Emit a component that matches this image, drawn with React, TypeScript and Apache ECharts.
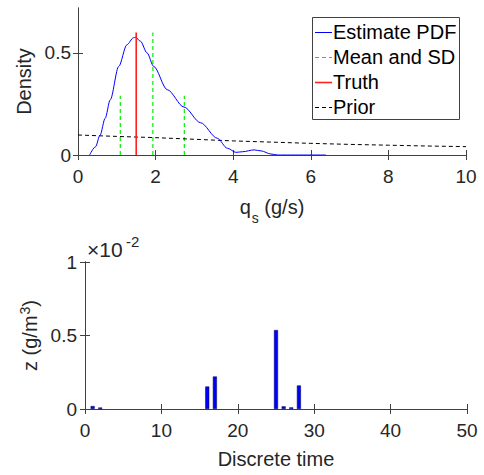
import React, { useEffect, useRef } from "react";
import * as echarts from "echarts";

// Top panel: estimated PDF of q_s
const pdfX = [0.3, 0.45, 0.57, 0.7, 0.83, 1.05, 1.26, 1.43, 1.48, 1.61, 1.78, 1.95, 2.3, 2.73, 3.16, 3.59, 3.85, 4.07, 4.24, 4.54, 4.72, 4.97, 5.15, 6.39];
const pdfY = [0, 0.04, 0.098, 0.18, 0.27, 0.434, 0.54, 0.574, 0.577, 0.557, 0.5, 0.434, 0.32, 0.235, 0.158, 0.082, 0.033, 0.013, 0.016, 0.025, 0.02, 0.005, 0, 0];
const priorX = [0, 1, 2, 3, 4, 5, 6, 7, 8, 9, 10];
const priorY = [0.098, 0.091, 0.085, 0.077, 0.069, 0.063, 0.057, 0.052, 0.048, 0.044, 0.041];
const meanSdX = [1.09, 1.93, 2.74];
const meanSdTop = [0.29, 0.6, 0.29];
const truthX = 1.5;
const truthTop = 0.6;
const topXTicks = [0, 2, 4, 6, 8, 10];
const topYTicks = [0, 0.5];
const legendNames = ["Estimate PDF", "Mean and SD", "Truth", "Prior"];

// Bottom panel: z (in units of 1e-2 g/m^3)
const times = [1, 2, 16, 17, 25, 26, 27, 28];
const zVals = [0.02, 0.01, 0.153, 0.221, 0.537, 0.018, 0.011, 0.16];
const botXTicks = [0, 10, 20, 30, 40, 50];
const botYTicks = [0, 0.5, 1];

const FONT = "Liberation Sans";
const TXT = "#262626";
const AX = "#404040";
const BLUE = "#0000ff";
const GREEN = "#00ee00";
const RED = "#ff2020";
const BLACK = "#000000";

function mainAxisCommon(ticks: number[], min: number, max: number, margin: number) {
  return {
    type: "value",
    min,
    max,
    axisLine: { show: true, lineStyle: { color: AX, width: 1 } },
    axisTick: { show: true, inside: true, length: 5, lineStyle: { color: AX }, customValues: ticks },
    axisLabel: {
      show: true,
      color: TXT,
      fontFamily: FONT,
      fontSize: 19,
      margin,
      customValues: ticks,
      formatter: (v: number) => String(v),
    },
    splitLine: { show: false },
  };
}

function boxAxis(ticks: number[], min: number, max: number, gridIndex: number, position: string) {
  return {
    type: "value",
    gridIndex,
    position,
    min,
    max,
    axisLine: { show: true, lineStyle: { color: AX, width: 1 } },
    axisTick: { show: true, inside: true, length: 5, lineStyle: { color: AX }, customValues: ticks },
    axisLabel: { show: false },
    splitLine: { show: false },
  };
}

export default function App() {
  const ref = useRef<HTMLDivElement>(null);
  useEffect(() => {
    if (!ref.current) return;
    const chart = echarts.init(ref.current, null, { renderer: "svg" });

    const meanSdData: any[] = [];
    meanSdX.forEach((x, i) => {
      meanSdData.push([x, 0], [x, meanSdTop[i]]);
      if (i < meanSdX.length - 1) meanSdData.push(["-", "-"]);
    });

    // legend drawn manually so that line samples look like MATLAB's
    const lgLeft = 312, lgTop = 17, lgW = 147, lgH = 102, rowH = 25, row0 = 32;
    const lgStyles = [
      { stroke: BLUE, lineDash: null, lineWidth: 1 },
      { stroke: GREEN, lineDash: [4, 3], lineWidth: 1.2 },
      { stroke: RED, lineDash: null, lineWidth: 1.6 },
      { stroke: BLACK, lineDash: [4, 3], lineWidth: 1 },
    ];
    const legendGraphic: any[] = [
      {
        type: "rect",
        shape: { x: lgLeft + 0.5, y: lgTop + 0.5, width: lgW, height: lgH },
        style: { fill: "#ffffff", stroke: AX, lineWidth: 1 },
        z: 100,
      },
    ];
    legendNames.forEach((name, i) => {
      const cy = row0 + i * rowH;
      const st: any = { stroke: lgStyles[i].stroke, lineWidth: lgStyles[i].lineWidth };
      if (lgStyles[i].lineDash) st.lineDash = lgStyles[i].lineDash;
      legendGraphic.push({
        type: "line",
        shape: { x1: lgLeft + 3, y1: cy + 0.5, x2: lgLeft + 20, y2: cy + 0.5 },
        style: st,
        z: 101,
      });
      legendGraphic.push({
        type: "text",
        x: lgLeft + 21,
        y: cy,
        style: { text: name, fontSize: 20, fontFamily: FONT, fill: BLACK, verticalAlign: "middle", align: "left" },
        z: 101,
      });
    });

    const option: any = {
      animation: false,
      backgroundColor: "#ffffff",
      textStyle: { fontFamily: FONT },
      grid: [
        { left: 78, right: 18, top: 8, height: 147, containLabel: false },
        { left: 85, right: 17, top: 262, height: 147, containLabel: false },
      ],
      xAxis: [
        {
          ...mainAxisCommon(topXTicks, 0, 10, 12),
          gridIndex: 0,
          position: "bottom",
          name: "{a|q}{sub|s}{a| (g/s)}",
          nameLocation: "middle",
          nameGap: 40,
          nameTextStyle: {
            rich: {
              a: { fontSize: 20, color: TXT, fontFamily: FONT, lineHeight: 24 },
              sub: { fontSize: 14, color: TXT, fontFamily: FONT, verticalAlign: "bottom", lineHeight: 16, padding: [0, 0, -6, 1] },
            },
          },
        },
        boxAxis(topXTicks, 0, 10, 0, "top"),
        {
          ...mainAxisCommon(botXTicks, 0, 50, 12),
          gridIndex: 1,
          position: "bottom",
          name: "Discrete time",
          nameLocation: "middle",
          nameGap: 40,
          nameTextStyle: { fontSize: 20, color: TXT, fontFamily: FONT },
        },
        boxAxis(botXTicks, 0, 50, 1, "top"),
      ],
      yAxis: [
        {
          ...mainAxisCommon(topYTicks, 0, 0.72, 7),
          gridIndex: 0,
          position: "left",
          name: "Density",
          nameLocation: "middle",
          nameGap: 44,
          nameTextStyle: { fontSize: 20, color: TXT, fontFamily: FONT },
        },
        boxAxis(topYTicks, 0, 0.72, 0, "right"),
        {
          ...mainAxisCommon(botYTicks, 0, 1, 8),
          gridIndex: 1,
          position: "left",
          name: "{a|z (g/m}{sup|3}{a|)}",
          nameLocation: "middle",
          nameGap: 40,
          nameTextStyle: {
            rich: {
              a: { fontSize: 20, color: TXT, fontFamily: FONT, lineHeight: 24 },
              sup: { fontSize: 14, color: TXT, fontFamily: FONT, verticalAlign: "top", lineHeight: 14, padding: [0, 0, 8, 1] },
            },
          },
        },
        boxAxis(botYTicks, 0, 1, 1, "right"),
      ],
      graphic: [
        ...legendGraphic,
        { type: "text", left: 87, top: 239, style: { text: "×10", fontSize: 21, fill: TXT, fontFamily: FONT } },
        { type: "text", left: 126, top: 234, style: { text: "-2", fontSize: 15, fill: TXT, fontFamily: FONT } },
      ],
      series: [
        {
          name: "Estimate PDF",
          type: "line",
          xAxisIndex: 0,
          yAxisIndex: 0,
          data: pdfX.map((x, i) => [x, pdfY[i]]),
          smooth: 0.3,
          smoothMonotone: "x",
          symbol: "none",
          lineStyle: { color: BLUE, width: 1 },
          itemStyle: { color: BLUE },
          z: 3,
        },
        {
          name: "Mean and SD",
          type: "line",
          xAxisIndex: 0,
          yAxisIndex: 0,
          data: meanSdData,
          connectNulls: false,
          symbol: "none",
          lineStyle: { color: GREEN, width: 1.2, type: [4, 3] },
          itemStyle: { color: GREEN },
          z: 2,
        },
        {
          name: "Truth",
          type: "line",
          xAxisIndex: 0,
          yAxisIndex: 0,
          data: [[truthX, 0], [truthX, truthTop]],
          symbol: "none",
          lineStyle: { color: RED, width: 1.6 },
          itemStyle: { color: RED },
          z: 4,
        },
        {
          name: "Prior",
          type: "line",
          xAxisIndex: 0,
          yAxisIndex: 0,
          data: priorX.map((x, i) => [x, priorY[i]]),
          symbol: "none",
          lineStyle: { color: BLACK, width: 1, type: [4, 3] },
          itemStyle: { color: BLACK },
          z: 2,
        },
        {
          name: "z",
          type: "bar",
          xAxisIndex: 2,
          yAxisIndex: 2,
          data: times.map((t, i) => [t, zVals[i]]),
          barWidth: 4,
          itemStyle: { color: BLUE, borderColor: "#000040", borderWidth: 0.5 },
        },
      ],
    };
    chart.setOption(option);
    return () => chart.dispose();
  }, []);
  return <div ref={ref} style={{ width: 484, height: 475, position: "absolute", left: 0, top: 0, background: "#fff" }} />;
}
